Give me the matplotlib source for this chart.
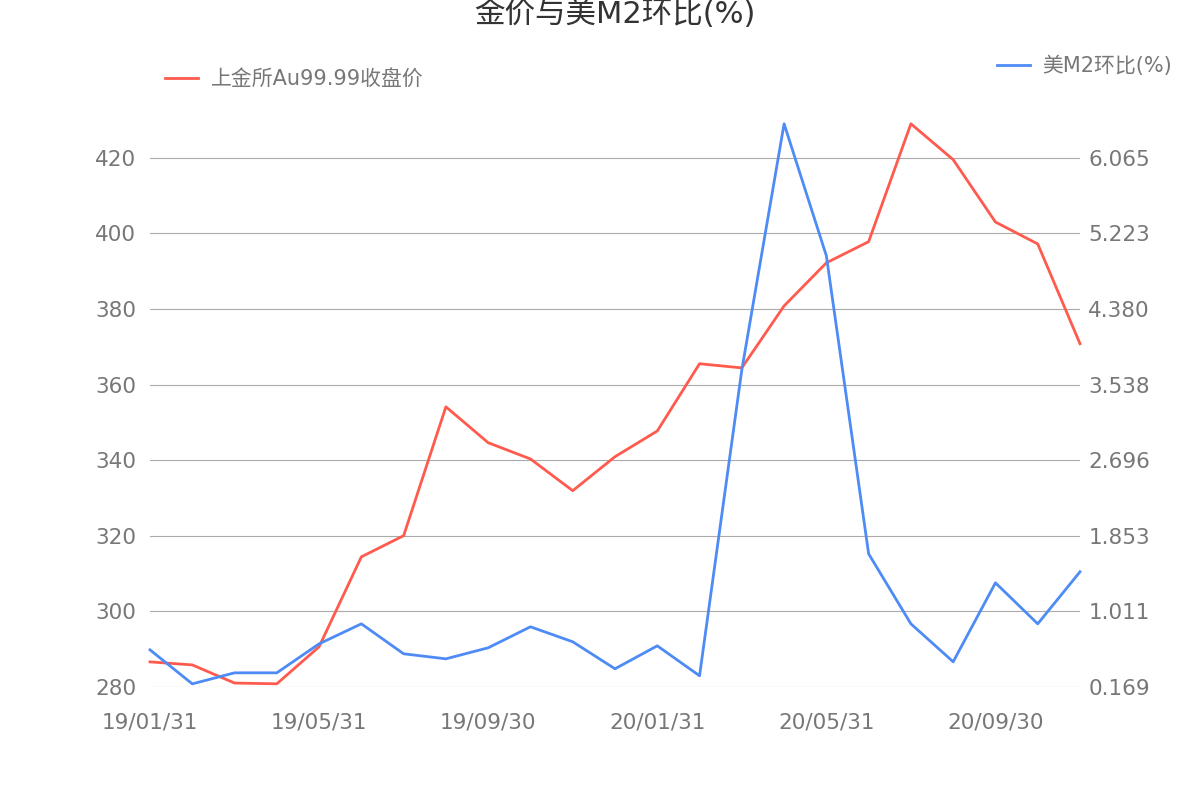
import matplotlib
matplotlib.use("Agg")
import matplotlib.pyplot as plt
import pandas as pd

plt.rcParams['font.family'] = ['DejaVu Sans', 'Noto Sans CJK SC']

dates = pd.date_range("2019-01-31", periods=23, freq="ME")
gold = [286.6, 285.8, 281.0, 280.8, 290.6, 314.4, 320.0, 354.1, 344.6, 340.3, 331.9, 340.9,
        347.7, 365.5, 364.4, 380.8, 392.2, 397.8, 429.0, 419.5, 403.0, 397.2, 370.8]
m2 = [0.581, 0.202, 0.325, 0.325, 0.648, 0.871, 0.537, 0.481, 0.604, 0.838, 0.671, 0.370,
      0.626, 0.292, 3.702, 6.444, 4.973, 1.651, 0.871, 0.448, 1.328, 0.871, 1.451]
left_ticks = [280, 300, 320, 340, 360, 380, 400, 420]
right_ticks = [0.169, 1.011, 1.853, 2.696, 3.538, 4.380, 5.223, 6.065]
tick_idx = [0, 4, 8, 12, 16, 20]
tick_labels = ["19/01/31", "19/05/31", "19/09/30", "20/01/31", "20/05/31", "20/09/30"]

fig = plt.figure(figsize=(12, 8), dpi=100)
ax = fig.add_axes([0.125, 0.141, 0.775, 0.709])
ax2 = ax.twinx()
x = list(range(len(dates)))
ax.plot(x, gold, color="#FF5A4E", lw=2, clip_on=False, zorder=3)
ax2.plot(x, m2, color="#4E8BF5", lw=2, clip_on=False, zorder=3)
ax.set_xlim(0, len(x) - 1)
ax.set_ylim(279.9, 430)
ax2.set_ylim(0.169 - 0.1 / 140 * 5.896, 0.169 + 150 / 140 * (6.065 - 0.169))
ax.set_yticks(left_ticks)
ax.set_yticklabels([str(v) for v in left_ticks])
ax2.set_yticks(right_ticks)
ax2.set_yticklabels([f"{v:.3f}" for v in right_ticks])
ax.set_xticks(tick_idx)
ax.set_xticklabels(tick_labels)
ax.grid(axis='y', color="#AAAAAA", lw=0.8)
for a in (ax, ax2):
    for s in a.spines.values():
        s.set_visible(False)
    a.tick_params(length=0, labelsize=15.5, colors="#777777")
ax.tick_params(axis='x', pad=18)
ax.tick_params(axis='y', pad=10)
ax2.tick_params(axis='y', pad=6)
fig.text(0.512, 0.982, "金价与美M2环比(%)", ha="center", va="center", fontsize=22, color="#333333")
fig.legend(handles=[ax.lines[0]], labels=["上金所Au99.99收盘价"], loc="center left",
           bbox_to_anchor=(0.122, 0.901), frameon=False, fontsize=15, labelcolor="#777777",
           handlelength=1.6, handletextpad=0.6)
fig.legend(handles=[ax2.lines[0]], labels=["美M2环比(%)"], loc="center left",
           bbox_to_anchor=(0.815, 0.918), frameon=False, fontsize=15, labelcolor="#777777",
           handlelength=1.6, handletextpad=0.6)
fig.savefig("out.png")
